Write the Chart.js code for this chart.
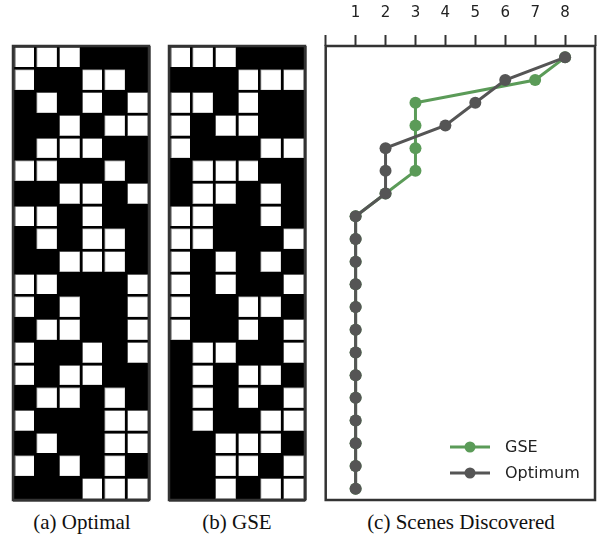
<!DOCTYPE html>
<html><head><meta charset="utf-8">
<script src="https://cdn.jsdelivr.net/npm/chart.js@4.4.0/dist/chart.umd.min.js"></script>
<style>
html,body{margin:0;padding:0;background:#fff;width:598px;height:535px;overflow:hidden;}
.box{position:absolute;}
.cap{position:absolute;width:240px;text-align:center;font-family:"Liberation Serif","Times New Roman",serif;font-size:21px;line-height:24px;color:#111;top:510px;white-space:nowrap;}
</style></head><body>
<div class="box" style="left:8px;top:40px;width:146px;height:466px"><canvas id="ca"></canvas></div>
<div class="box" style="left:164px;top:40px;width:146px;height:466px"><canvas id="cb"></canvas></div>
<div class="box" style="left:315px;top:0px;width:283px;height:510px"><canvas id="cc"></canvas></div>
<div class="cap" style="left:-38px">(a) Optimal</div>
<div class="cap" style="left:117px">(b) GSE</div>
<div class="cap" style="left:341px">(c) Scenes Discovered</div>
<script>
// ---- data ----
const rowLabels = ['1','2','3','4','5','6','7','8','9','10','11','12','13','14','15','16','17','18','19','20'];
const columnIds = [0,1,2,3,4,5];
const optimalCells = [
  [1,1,1,0,0,0],
  [1,0,0,1,1,0],
  [0,1,0,1,0,1],
  [0,0,1,0,1,1],
  [0,1,1,1,0,0],
  [1,1,0,0,1,0],
  [0,0,1,1,0,1],
  [1,1,0,1,0,0],
  [0,1,0,1,1,0],
  [0,0,1,1,1,0],
  [1,1,0,0,0,1],
  [1,0,1,0,0,1],
  [0,1,1,0,0,1],
  [1,0,0,1,0,1],
  [1,0,1,1,0,0],
  [0,1,1,0,1,0],
  [1,0,0,0,1,1],
  [0,1,0,0,1,1],
  [1,0,1,0,1,0],
  [0,0,0,1,1,1]
];
const gseCells = [
  [1,1,1,0,0,0],
  [0,0,0,1,1,1],
  [1,1,0,1,0,0],
  [1,0,1,1,0,0],
  [1,0,0,0,1,1],
  [0,1,1,1,0,0],
  [0,1,1,0,1,0],
  [1,1,0,0,1,0],
  [1,1,0,0,0,1],
  [1,0,1,0,1,0],
  [1,0,1,0,0,1],
  [1,0,0,1,1,0],
  [1,0,0,1,0,1],
  [0,1,1,0,0,1],
  [0,1,0,1,1,0],
  [0,1,0,1,0,1],
  [0,1,0,0,1,1],
  [0,0,1,1,1,0],
  [0,0,1,1,0,1],
  [0,0,1,0,1,1]
];
const sceneTicks = [1,2,3,4,5,6,7,8];
const gseScenes     = [8,7,3,3,3,3,2,1,1,1,1,1,1,1,1,1,1,1,1,1];
const optimumScenes = [8,6,5,4,2,2,2,1,1,1,1,1,1,1,1,1,1,1,1,1];

// ---- plugins ----
const framePlugin = {
  id: 'frame',
  beforeDraw(chart, args, opts) {
    if (!opts.fill) return;
    const {ctx, chartArea: a} = chart;
    ctx.save(); ctx.fillStyle = opts.fill;
    ctx.fillRect(a.left, a.top, a.right - a.left, a.bottom - a.top);
    ctx.restore();
  },
  afterDraw(chart, args, opts) {
    const {ctx, chartArea: a} = chart;
    ctx.save(); ctx.strokeStyle = opts.color || '#333'; ctx.lineWidth = opts.width || 2;
    ctx.strokeRect(a.left, a.top, a.right - a.left, a.bottom - a.top);
    ctx.restore();
  }
};
const insideLegend = {
  id: 'insideLegend',
  afterDraw(chart) {
    const {ctx, chartArea: a} = chart;
    const order = [0, 1];
    ctx.save();
    order.forEach((di, i) => {
      const ds = chart.data.datasets[di];
      const y = a.bottom - 53 + i * 26;
      const x0 = a.right - 145;
      ctx.strokeStyle = ds.borderColor; ctx.lineWidth = 3;
      ctx.beginPath(); ctx.moveTo(x0, y); ctx.lineTo(x0 + 40, y); ctx.stroke();
      ctx.fillStyle = ds.borderColor;
      ctx.beginPath(); ctx.arc(x0 + 20, y, 5.5, 0, Math.PI * 2); ctx.fill();
      ctx.fillStyle = '#222'; ctx.font = '16px "DejaVu Sans"'; ctx.textBaseline = 'middle';
      ctx.fillText(ds.label, x0 + 55, y + 1);
    });
    ctx.restore();
  }
};

// ---- grid charts ----
function gridChart(id, cells) {
  const datasets = columnIds.map(c => ({
    data: cells.map(row => row[c] ? [c, c + 1] : null),
    backgroundColor: '#ffffff',
    borderColor: '#a0a0a0',
    borderWidth: 2,
    borderSkipped: false,
    grouped: false,
    categoryPercentage: 1,
    barPercentage: 1
  }));
  return new Chart(document.getElementById(id), {
    type: 'bar',
    data: { labels: rowLabels, datasets },
    plugins: [framePlugin],
    options: {
      indexAxis: 'y',
      responsive: true, maintainAspectRatio: false, animation: false,
      layout: { autoPadding: false, padding: { left: 5, right: 5, top: 6, bottom: 6 } },
      plugins: { legend: { display: false }, tooltip: { enabled: false },
                 frame: { fill: '#000', color: '#333', width: 2.5 } },
      scales: {
        x: { type: 'linear', min: 0, max: columnIds.length,
             ticks: { display: false, stepSize: 1 },
             grid: { color: '#000', lineWidth: 2.5, drawTicks: false, z: 1 },
             border: { display: false },
             afterFit(s) { s.height = 0; } },
        y: { type: 'category', offset: true,
             ticks: { display: false },
             grid: { color: '#000', lineWidth: 2.5, drawTicks: false, offset: true, z: 1 },
             border: { display: false },
             afterFit(s) { s.width = 0; } }
      }
    }
  });
}
gridChart('ca', optimalCells);
gridChart('cb', gseCells);

// ---- line chart ----
new Chart(document.getElementById('cc'), {
  type: 'line',
  data: {
    labels: rowLabels,
    datasets: [
      { label: 'GSE', data: gseScenes, order: 2,
        borderColor: '#5b9b58', backgroundColor: '#5b9b58',
        pointBackgroundColor: '#5b9b58', pointBorderColor: '#5b9b58',
        borderWidth: 3, pointRadius: 6, pointBorderWidth: 0, tension: 0 },
      { label: 'Optimum', data: optimumScenes, order: 1,
        borderColor: '#555555', backgroundColor: '#555555',
        pointBackgroundColor: '#555555', pointBorderColor: '#555555',
        borderWidth: 3, pointRadius: 6, pointBorderWidth: 0, tension: 0 }
    ]
  },
  plugins: [framePlugin, insideLegend],
  options: {
    indexAxis: 'y',
    responsive: true, maintainAspectRatio: false, animation: false,
    layout: { autoPadding: false, padding: { left: 10.7, right: 3, top: 0, bottom: 10 } },
    plugins: { legend: { display: false }, tooltip: { enabled: false },
               frame: { color: '#333', width: 2.5 } },
    scales: {
      x: { type: 'linear', position: 'top', min: 0, max: 9,
           ticks: { stepSize: 1, padding: 0, color: '#222',
                    font: { family: '"DejaVu Sans"', size: 15, lineHeight: '44px' },
                    callback: v => sceneTicks.includes(v) ? String(v) : '' },
           grid: { drawOnChartArea: false, drawTicks: true, tickLength: 11,
                   tickColor: '#333', tickWidth: 2 },
           border: { display: false },
           afterFit(s) { s.height = 46; } },
      y: { type: 'category', offset: true, display: false }
    }
  }
});
</script>
</body></html>
